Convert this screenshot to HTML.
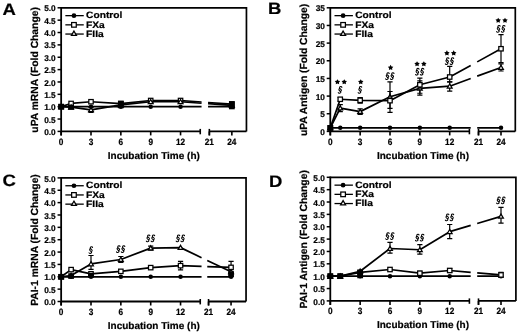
<!DOCTYPE html><html><head><meta charset="utf-8"><style>html,body{margin:0;padding:0;background:#fff;}svg{display:block;filter:grayscale(1);}text{font-family:"Liberation Sans", sans-serif;fill:#000;text-rendering:geometricPrecision;stroke:#000;stroke-width:0.2px;}</style></head><body>
<svg width="520" height="334" viewBox="0 0 520 334">
<rect width="520" height="334" fill="#fff"/>
<text transform="translate(2.4,15.4) scale(1.12,1)" font-size="16.5" font-weight="bold">A</text>
<path d="M61.15,7.80 H246.45 V131.40" fill="none" stroke="#000" stroke-width="1.7"/>
<line x1="61.15" y1="7.0" x2="61.15" y2="135.4" stroke="#000" stroke-width="1.8"/>
<line x1="61.15" y1="131.4" x2="200.25" y2="131.4" stroke="#000" stroke-width="1.8"/>
<line x1="209.35" y1="131.4" x2="246.45" y2="131.40" stroke="#000" stroke-width="1.8"/>
<line x1="200.25" y1="128.9" x2="200.25" y2="134.3" stroke="#000" stroke-width="1.6"/>
<line x1="209.35" y1="128.9" x2="209.35" y2="135.4" stroke="#000" stroke-width="1.6"/>
<line x1="61.15" y1="131.4" x2="61.15" y2="135.4" stroke="#000" stroke-width="1.6"/>
<text transform="translate(61.15,144.70) scale(0.9,1)" font-size="9.2" font-weight="bold" text-anchor="middle">0</text>
<line x1="91.00" y1="131.4" x2="91.00" y2="135.4" stroke="#000" stroke-width="1.6"/>
<text transform="translate(91.00,144.70) scale(0.9,1)" font-size="9.2" font-weight="bold" text-anchor="middle">3</text>
<line x1="120.85" y1="131.4" x2="120.85" y2="135.4" stroke="#000" stroke-width="1.6"/>
<text transform="translate(120.85,144.70) scale(0.9,1)" font-size="9.2" font-weight="bold" text-anchor="middle">6</text>
<line x1="150.70" y1="131.4" x2="150.70" y2="135.4" stroke="#000" stroke-width="1.6"/>
<text transform="translate(150.70,144.70) scale(0.9,1)" font-size="9.2" font-weight="bold" text-anchor="middle">9</text>
<line x1="180.55" y1="131.4" x2="180.55" y2="135.4" stroke="#000" stroke-width="1.6"/>
<text transform="translate(180.55,144.70) scale(0.9,1)" font-size="9.2" font-weight="bold" text-anchor="middle">12</text>
<line x1="209.35" y1="131.4" x2="209.35" y2="135.4" stroke="#000" stroke-width="1.6"/>
<text transform="translate(209.35,144.70) scale(0.9,1)" font-size="9.2" font-weight="bold" text-anchor="middle">21</text>
<line x1="231.85" y1="131.4" x2="231.85" y2="135.4" stroke="#000" stroke-width="1.6"/>
<text transform="translate(231.85,144.70) scale(0.9,1)" font-size="9.2" font-weight="bold" text-anchor="middle">24</text>
<line x1="57.55" y1="131.40" x2="61.15" y2="131.40" stroke="#000" stroke-width="1.5"/>
<text x="55.75" y="135.00" font-size="8.3" font-weight="bold" text-anchor="end">0.0</text>
<line x1="57.55" y1="119.04" x2="61.15" y2="119.04" stroke="#000" stroke-width="1.5"/>
<text x="55.75" y="122.64" font-size="8.3" font-weight="bold" text-anchor="end">0.5</text>
<line x1="57.55" y1="106.68" x2="61.15" y2="106.68" stroke="#000" stroke-width="1.5"/>
<text x="55.75" y="110.28" font-size="8.3" font-weight="bold" text-anchor="end">1.0</text>
<line x1="57.55" y1="94.32" x2="61.15" y2="94.32" stroke="#000" stroke-width="1.5"/>
<text x="55.75" y="97.92" font-size="8.3" font-weight="bold" text-anchor="end">1.5</text>
<line x1="57.55" y1="81.96" x2="61.15" y2="81.96" stroke="#000" stroke-width="1.5"/>
<text x="55.75" y="85.56" font-size="8.3" font-weight="bold" text-anchor="end">2.0</text>
<line x1="57.55" y1="69.60" x2="61.15" y2="69.60" stroke="#000" stroke-width="1.5"/>
<text x="55.75" y="73.20" font-size="8.3" font-weight="bold" text-anchor="end">2.5</text>
<line x1="57.55" y1="57.24" x2="61.15" y2="57.24" stroke="#000" stroke-width="1.5"/>
<text x="55.75" y="60.84" font-size="8.3" font-weight="bold" text-anchor="end">3.0</text>
<line x1="57.55" y1="44.88" x2="61.15" y2="44.88" stroke="#000" stroke-width="1.5"/>
<text x="55.75" y="48.48" font-size="8.3" font-weight="bold" text-anchor="end">3.5</text>
<line x1="57.55" y1="32.52" x2="61.15" y2="32.52" stroke="#000" stroke-width="1.5"/>
<text x="55.75" y="36.12" font-size="8.3" font-weight="bold" text-anchor="end">4.0</text>
<line x1="57.55" y1="20.16" x2="61.15" y2="20.16" stroke="#000" stroke-width="1.5"/>
<text x="55.75" y="23.76" font-size="8.3" font-weight="bold" text-anchor="end">4.5</text>
<line x1="57.55" y1="7.80" x2="61.15" y2="7.80" stroke="#000" stroke-width="1.5"/>
<text x="55.75" y="11.40" font-size="8.3" font-weight="bold" text-anchor="end">5.0</text>
<text transform="translate(37.85,69.90) rotate(-90)" font-size="10.3" font-weight="bold" text-anchor="middle">uPA mRNA (Fold Change)</text>
<text x="153.85" y="158.80" font-size="10" font-weight="bold" text-anchor="middle">Incubation Time (h)</text>
<line x1="65.35" y1="15.65" x2="83.75" y2="15.65" stroke="#000" stroke-width="1.3"/>
<circle cx="73.95" cy="15.65" r="2.36" fill="#000"/>
<text transform="translate(86.05,18.30) scale(1.1,1)" font-size="9.3" font-weight="bold">Control</text>
<line x1="65.35" y1="24.85" x2="83.75" y2="24.85" stroke="#000" stroke-width="1.3"/>
<rect x="71.64" y="22.54" width="4.62" height="4.62" fill="#fff" stroke="#000" stroke-width="1.25"/>
<text transform="translate(86.05,27.50) scale(1.1,1)" font-size="9.3" font-weight="bold">FXa</text>
<line x1="65.35" y1="34.05" x2="83.75" y2="34.05" stroke="#000" stroke-width="1.3"/>
<polygon points="73.95,31.08 76.47,35.39 71.43,35.39" fill="#fff" stroke="#000" stroke-width="1.25" stroke-linejoin="miter"/>
<text transform="translate(86.05,36.70) scale(1.1,1)" font-size="9.3" font-weight="bold">FIIa</text>
<path d="M61.15,106.68 L71.10,106.68 L91.00,106.68 L120.85,106.68 L150.70,106.68 L180.55,106.68 L201.55,106.68 M208.05,106.68 L231.85,106.68" fill="none" stroke="#000" stroke-width="1.7" stroke-linejoin="round"/>
<circle cx="61.15" cy="106.68" r="2.25" fill="#000"/>
<circle cx="71.10" cy="106.68" r="2.25" fill="#000"/>
<circle cx="91.00" cy="106.68" r="2.25" fill="#000"/>
<circle cx="120.85" cy="106.68" r="2.25" fill="#000"/>
<circle cx="150.70" cy="106.68" r="2.25" fill="#000"/>
<circle cx="180.55" cy="106.68" r="2.25" fill="#000"/>
<circle cx="231.85" cy="106.68" r="2.25" fill="#000"/>
<path d="M61.15,106.68 L71.10,103.47 L91.00,101.74 L120.85,103.71 L150.70,100.50 L180.55,100.50 L201.55,102.02 M208.05,102.49 L231.85,104.21" fill="none" stroke="#000" stroke-width="1.7" stroke-linejoin="round"/>
<rect x="58.95" y="104.48" width="4.40" height="4.40" fill="#fff" stroke="#000" stroke-width="1.25"/>
<rect x="68.90" y="101.27" width="4.40" height="4.40" fill="#fff" stroke="#000" stroke-width="1.25"/>
<rect x="88.80" y="99.54" width="4.40" height="4.40" fill="#fff" stroke="#000" stroke-width="1.25"/>
<rect x="118.65" y="101.51" width="4.40" height="4.40" fill="#fff" stroke="#000" stroke-width="1.25"/>
<rect x="148.50" y="98.30" width="4.40" height="4.40" fill="#fff" stroke="#000" stroke-width="1.25"/>
<rect x="178.35" y="98.30" width="4.40" height="4.40" fill="#fff" stroke="#000" stroke-width="1.25"/>
<rect x="229.65" y="102.01" width="4.40" height="4.40" fill="#fff" stroke="#000" stroke-width="1.25"/>
<path d="M61.15,106.68 L71.10,107.17 L91.00,109.89 L120.85,104.95 L150.70,101.74 L180.55,101.74 L201.55,103.25 M208.05,103.72 L231.85,105.44" fill="none" stroke="#000" stroke-width="1.7" stroke-linejoin="round"/>
<path d="M91.00,107.42 V112.37 M88.40,107.42 H93.60 M88.40,112.37 H93.60" stroke="#000" stroke-width="1.2" fill="none"/>
<polygon points="61.15,104.43 63.55,108.53 58.75,108.53" fill="#fff" stroke="#000" stroke-width="1.25" stroke-linejoin="miter"/>
<polygon points="71.10,104.92 73.50,109.02 68.70,109.02" fill="#fff" stroke="#000" stroke-width="1.25" stroke-linejoin="miter"/>
<polygon points="91.00,107.64 93.40,111.74 88.60,111.74" fill="#fff" stroke="#000" stroke-width="1.25" stroke-linejoin="miter"/>
<polygon points="120.85,102.69 123.25,106.79 118.45,106.79" fill="#fff" stroke="#000" stroke-width="1.25" stroke-linejoin="miter"/>
<polygon points="150.70,99.48 153.10,103.58 148.30,103.58" fill="#fff" stroke="#000" stroke-width="1.25" stroke-linejoin="miter"/>
<polygon points="180.55,99.48 182.95,103.58 178.15,103.58" fill="#fff" stroke="#000" stroke-width="1.25" stroke-linejoin="miter"/>
<polygon points="231.85,103.19 234.25,107.29 229.45,107.29" fill="#fff" stroke="#000" stroke-width="1.25" stroke-linejoin="miter"/>
<rect x="58.25" y="103.88" width="5.8" height="5.6" fill="#000"/>
<rect x="68.20" y="104.67" width="5.8" height="5.0" fill="#000"/>
<rect x="117.95" y="100.66" width="5.8" height="7.6" fill="#000"/>
<rect x="228.95" y="101.10" width="5.8" height="8.2" fill="#000"/>
<text transform="translate(268,13.5) scale(1.12,1)" font-size="16.5" font-weight="bold">B</text>
<path d="M330.30,7.80 H515.30 V131.40" fill="none" stroke="#000" stroke-width="1.7"/>
<line x1="330.3" y1="7.0" x2="330.3" y2="135.4" stroke="#000" stroke-width="1.8"/>
<line x1="330.3" y1="131.4" x2="469.4" y2="131.4" stroke="#000" stroke-width="1.8"/>
<line x1="478.50" y1="131.4" x2="515.30" y2="131.40" stroke="#000" stroke-width="1.8"/>
<line x1="469.4" y1="128.9" x2="469.4" y2="134.3" stroke="#000" stroke-width="1.6"/>
<line x1="478.50" y1="128.9" x2="478.50" y2="135.4" stroke="#000" stroke-width="1.6"/>
<line x1="330.30" y1="131.4" x2="330.30" y2="135.4" stroke="#000" stroke-width="1.6"/>
<text transform="translate(330.30,144.70) scale(0.9,1)" font-size="9.2" font-weight="bold" text-anchor="middle">0</text>
<line x1="360.15" y1="131.4" x2="360.15" y2="135.4" stroke="#000" stroke-width="1.6"/>
<text transform="translate(360.15,144.70) scale(0.9,1)" font-size="9.2" font-weight="bold" text-anchor="middle">3</text>
<line x1="390.00" y1="131.4" x2="390.00" y2="135.4" stroke="#000" stroke-width="1.6"/>
<text transform="translate(390.00,144.70) scale(0.9,1)" font-size="9.2" font-weight="bold" text-anchor="middle">6</text>
<line x1="419.85" y1="131.4" x2="419.85" y2="135.4" stroke="#000" stroke-width="1.6"/>
<text transform="translate(419.85,144.70) scale(0.9,1)" font-size="9.2" font-weight="bold" text-anchor="middle">9</text>
<line x1="449.70" y1="131.4" x2="449.70" y2="135.4" stroke="#000" stroke-width="1.6"/>
<text transform="translate(449.70,144.70) scale(0.9,1)" font-size="9.2" font-weight="bold" text-anchor="middle">12</text>
<line x1="478.50" y1="131.4" x2="478.50" y2="135.4" stroke="#000" stroke-width="1.6"/>
<text transform="translate(478.50,144.70) scale(0.9,1)" font-size="9.2" font-weight="bold" text-anchor="middle">21</text>
<line x1="501.00" y1="131.4" x2="501.00" y2="135.4" stroke="#000" stroke-width="1.6"/>
<text transform="translate(501.00,144.70) scale(0.9,1)" font-size="9.2" font-weight="bold" text-anchor="middle">24</text>
<line x1="326.7" y1="131.40" x2="330.3" y2="131.40" stroke="#000" stroke-width="1.5"/>
<text x="324.90" y="135.00" font-size="8.3" font-weight="bold" text-anchor="end">0</text>
<line x1="326.7" y1="113.74" x2="330.3" y2="113.74" stroke="#000" stroke-width="1.5"/>
<text x="324.90" y="117.34" font-size="8.3" font-weight="bold" text-anchor="end">5</text>
<line x1="326.7" y1="96.09" x2="330.3" y2="96.09" stroke="#000" stroke-width="1.5"/>
<text x="324.90" y="99.69" font-size="8.3" font-weight="bold" text-anchor="end">10</text>
<line x1="326.7" y1="78.43" x2="330.3" y2="78.43" stroke="#000" stroke-width="1.5"/>
<text x="324.90" y="82.03" font-size="8.3" font-weight="bold" text-anchor="end">15</text>
<line x1="326.7" y1="60.77" x2="330.3" y2="60.77" stroke="#000" stroke-width="1.5"/>
<text x="324.90" y="64.37" font-size="8.3" font-weight="bold" text-anchor="end">20</text>
<line x1="326.7" y1="43.11" x2="330.3" y2="43.11" stroke="#000" stroke-width="1.5"/>
<text x="324.90" y="46.71" font-size="8.3" font-weight="bold" text-anchor="end">25</text>
<line x1="326.7" y1="25.46" x2="330.3" y2="25.46" stroke="#000" stroke-width="1.5"/>
<text x="324.90" y="29.06" font-size="8.3" font-weight="bold" text-anchor="end">30</text>
<line x1="326.7" y1="7.80" x2="330.3" y2="7.80" stroke="#000" stroke-width="1.5"/>
<text x="324.90" y="11.40" font-size="8.3" font-weight="bold" text-anchor="end">35</text>
<text transform="translate(307.00,69.90) rotate(-90)" font-size="10.3" font-weight="bold" text-anchor="middle">uPA Antigen (Fold Change)</text>
<text x="423.00" y="158.80" font-size="10" font-weight="bold" text-anchor="middle">Incubation Time (h)</text>
<line x1="334.5" y1="15.65" x2="352.90000000000003" y2="15.65" stroke="#000" stroke-width="1.3"/>
<circle cx="343.10" cy="15.65" r="2.36" fill="#000"/>
<text transform="translate(355.20,18.30) scale(1.1,1)" font-size="9.3" font-weight="bold">Control</text>
<line x1="334.5" y1="24.85" x2="352.90000000000003" y2="24.85" stroke="#000" stroke-width="1.3"/>
<rect x="340.79" y="22.54" width="4.62" height="4.62" fill="#fff" stroke="#000" stroke-width="1.25"/>
<text transform="translate(355.20,27.50) scale(1.1,1)" font-size="9.3" font-weight="bold">FXa</text>
<line x1="334.5" y1="34.05" x2="352.90000000000003" y2="34.05" stroke="#000" stroke-width="1.3"/>
<polygon points="343.10,31.08 345.62,35.39 340.58,35.39" fill="#fff" stroke="#000" stroke-width="1.25" stroke-linejoin="miter"/>
<text transform="translate(355.20,36.70) scale(1.1,1)" font-size="9.3" font-weight="bold">FIIa</text>
<path d="M330.30,127.87 L340.25,127.87 L360.15,127.87 L390.00,127.87 L419.85,127.87 L449.70,127.87 L470.70,127.87 M477.20,127.87 L501.00,127.87" fill="none" stroke="#000" stroke-width="1.7" stroke-linejoin="round"/>
<circle cx="330.30" cy="127.87" r="2.25" fill="#000"/>
<circle cx="340.25" cy="127.87" r="2.25" fill="#000"/>
<circle cx="360.15" cy="127.87" r="2.25" fill="#000"/>
<circle cx="390.00" cy="127.87" r="2.25" fill="#000"/>
<circle cx="419.85" cy="127.87" r="2.25" fill="#000"/>
<circle cx="449.70" cy="127.87" r="2.25" fill="#000"/>
<circle cx="501.00" cy="127.87" r="2.25" fill="#000"/>
<path d="M330.30,127.87 L340.25,108.09 L360.15,111.62 L390.00,96.79 L419.85,88.32 L449.70,86.20 L470.70,78.54 M477.20,76.16 L501.00,67.48" fill="none" stroke="#000" stroke-width="1.7" stroke-linejoin="round"/>
<path d="M340.25,104.56 V111.62 M337.65,104.56 H342.85 M337.65,111.62 H342.85" stroke="#000" stroke-width="1.2" fill="none"/>
<path d="M360.15,108.80 V114.45 M357.55,108.80 H362.75 M357.55,114.45 H362.75" stroke="#000" stroke-width="1.2" fill="none"/>
<path d="M390.00,81.96 V112.33 M387.40,81.96 H392.60 M387.40,112.33 H392.60" stroke="#000" stroke-width="1.2" fill="none"/>
<path d="M419.85,80.90 V95.03 M417.25,80.90 H422.45 M417.25,95.03 H422.45" stroke="#000" stroke-width="1.2" fill="none"/>
<path d="M449.70,81.96 V91.14 M447.10,81.96 H452.30 M447.10,91.14 H452.30" stroke="#000" stroke-width="1.2" fill="none"/>
<path d="M501.00,63.95 V71.01 M498.40,63.95 H503.60 M498.40,71.01 H503.60" stroke="#000" stroke-width="1.2" fill="none"/>
<polygon points="330.30,125.61 332.70,129.71 327.90,129.71" fill="#fff" stroke="#000" stroke-width="1.25" stroke-linejoin="miter"/>
<polygon points="340.25,105.84 342.65,109.94 337.85,109.94" fill="#fff" stroke="#000" stroke-width="1.25" stroke-linejoin="miter"/>
<polygon points="360.15,109.37 362.55,113.47 357.75,113.47" fill="#fff" stroke="#000" stroke-width="1.25" stroke-linejoin="miter"/>
<polygon points="390.00,94.54 392.40,98.64 387.60,98.64" fill="#fff" stroke="#000" stroke-width="1.25" stroke-linejoin="miter"/>
<polygon points="419.85,86.06 422.25,90.16 417.45,90.16" fill="#fff" stroke="#000" stroke-width="1.25" stroke-linejoin="miter"/>
<polygon points="449.70,83.94 452.10,88.04 447.30,88.04" fill="#fff" stroke="#000" stroke-width="1.25" stroke-linejoin="miter"/>
<polygon points="501.00,65.23 503.40,69.33 498.60,69.33" fill="#fff" stroke="#000" stroke-width="1.25" stroke-linejoin="miter"/>
<path d="M330.30,127.87 L340.25,99.26 L360.15,100.32 L390.00,100.68 L419.85,84.79 L449.70,77.02 L470.70,65.45 M477.20,61.87 L501.00,48.76" fill="none" stroke="#000" stroke-width="1.7" stroke-linejoin="round"/>
<path d="M340.25,97.50 V101.03 M337.65,97.50 H342.85 M337.65,101.03 H342.85" stroke="#000" stroke-width="1.2" fill="none"/>
<path d="M360.15,97.50 V103.15 M357.55,97.50 H362.75 M357.55,103.15 H362.75" stroke="#000" stroke-width="1.2" fill="none"/>
<path d="M390.00,91.49 V108.45 M387.40,91.49 H392.60 M387.40,108.45 H392.60" stroke="#000" stroke-width="1.2" fill="none"/>
<path d="M419.85,78.08 V93.26 M417.25,78.08 H422.45 M417.25,93.26 H422.45" stroke="#000" stroke-width="1.2" fill="none"/>
<path d="M449.70,66.42 V81.96 M447.10,66.42 H452.30 M447.10,81.96 H452.30" stroke="#000" stroke-width="1.2" fill="none"/>
<path d="M501.00,34.64 V62.54 M498.40,34.64 H503.60 M498.40,62.54 H503.60" stroke="#000" stroke-width="1.2" fill="none"/>
<rect x="328.10" y="125.67" width="4.40" height="4.40" fill="#fff" stroke="#000" stroke-width="1.25"/>
<rect x="338.05" y="97.06" width="4.40" height="4.40" fill="#fff" stroke="#000" stroke-width="1.25"/>
<rect x="357.95" y="98.12" width="4.40" height="4.40" fill="#fff" stroke="#000" stroke-width="1.25"/>
<rect x="387.80" y="98.48" width="4.40" height="4.40" fill="#fff" stroke="#000" stroke-width="1.25"/>
<rect x="417.65" y="82.59" width="4.40" height="4.40" fill="#fff" stroke="#000" stroke-width="1.25"/>
<rect x="447.50" y="74.82" width="4.40" height="4.40" fill="#fff" stroke="#000" stroke-width="1.25"/>
<rect x="498.80" y="46.56" width="4.40" height="4.40" fill="#fff" stroke="#000" stroke-width="1.25"/>
<rect x="327.40" y="125.07" width="5.8" height="5.6" fill="#000"/>
<polygon points="337.45,79.15 338.37,80.73 340.16,81.12 338.94,82.48 339.13,84.31 337.45,83.57 335.77,84.31 335.96,82.48 334.74,81.12 336.53,80.73" fill="#000"/>
<polygon points="344.25,79.15 345.17,80.73 346.96,81.12 345.74,82.48 345.93,84.31 344.25,83.57 342.57,84.31 342.76,82.48 341.54,81.12 343.33,80.73" fill="#000"/>
<path d="M341.83,87.37 C341.88,86.40 339.88,86.20 339.52,87.57 C339.16,88.83 341.66,89.22 341.40,90.49 C341.26,91.17 340.64,91.46 340.20,91.46 M340.08,88.54 C339.64,88.54 338.99,88.83 338.89,89.51 C338.63,90.78 341.29,91.26 340.86,92.43 C340.55,93.41 338.48,93.70 338.28,92.63 " fill="none" stroke="#000" stroke-width="1.05" stroke-linecap="round"/>
<polygon points="360.75,79.15 361.67,80.73 363.46,81.12 362.24,82.48 362.43,84.31 360.75,83.57 359.07,84.31 359.26,82.48 358.04,81.12 359.83,80.73" fill="#000"/>
<path d="M361.73,87.27 C361.78,86.30 359.78,86.10 359.42,87.47 C359.06,88.73 361.56,89.12 361.30,90.39 C361.16,91.07 360.54,91.36 360.10,91.36 M359.98,88.44 C359.54,88.44 358.89,88.73 358.79,89.41 C358.53,90.68 361.19,91.16 360.76,92.33 C360.45,93.31 358.38,93.60 358.18,92.53 " fill="none" stroke="#000" stroke-width="1.05" stroke-linecap="round"/>
<polygon points="390.60,64.85 391.52,66.43 393.31,66.82 392.09,68.18 392.28,70.01 390.60,69.27 388.92,70.01 389.11,68.18 387.89,66.82 389.68,66.43" fill="#000"/>
<path d="M389.18,73.57 C389.23,72.60 387.23,72.40 386.87,73.77 C386.51,75.03 389.01,75.42 388.75,76.69 C388.61,77.37 387.99,77.66 387.55,77.66 M387.43,74.74 C386.99,74.74 386.34,75.03 386.24,75.71 C385.98,76.98 388.64,77.46 388.21,78.63 C387.90,79.61 385.83,79.90 385.63,78.83 M393.98,73.57 C394.03,72.60 392.03,72.40 391.67,73.77 C391.31,75.03 393.81,75.42 393.55,76.69 C393.41,77.37 392.79,77.66 392.35,77.66 M392.23,74.74 C391.79,74.74 391.14,75.03 391.04,75.71 C390.78,76.98 393.44,77.46 393.01,78.63 C392.70,79.61 390.63,79.90 390.43,78.83 " fill="none" stroke="#000" stroke-width="1.05" stroke-linecap="round"/>
<polygon points="417.05,61.15 417.97,62.73 419.76,63.12 418.54,64.48 418.73,66.31 417.05,65.57 415.37,66.31 415.56,64.48 414.34,63.12 416.13,62.73" fill="#000"/>
<polygon points="423.85,61.15 424.77,62.73 426.56,63.12 425.34,64.48 425.53,66.31 423.85,65.57 422.17,66.31 422.36,64.48 421.14,63.12 422.93,62.73" fill="#000"/>
<path d="M419.03,69.17 C419.08,68.20 417.08,68.00 416.72,69.37 C416.36,70.63 418.86,71.02 418.60,72.29 C418.46,72.97 417.84,73.26 417.40,73.26 M417.28,70.34 C416.84,70.34 416.19,70.63 416.09,71.31 C415.83,72.58 418.49,73.06 418.06,74.23 C417.75,75.21 415.68,75.50 415.48,74.43 M423.83,69.17 C423.88,68.20 421.88,68.00 421.52,69.37 C421.16,70.63 423.66,71.02 423.40,72.29 C423.26,72.97 422.64,73.26 422.20,73.26 M422.08,70.34 C421.64,70.34 420.99,70.63 420.89,71.31 C420.63,72.58 423.29,73.06 422.86,74.23 C422.55,75.21 420.48,75.50 420.28,74.43 " fill="none" stroke="#000" stroke-width="1.05" stroke-linecap="round"/>
<polygon points="446.90,50.35 447.82,51.93 449.61,52.32 448.39,53.68 448.58,55.51 446.90,54.77 445.22,55.51 445.41,53.68 444.19,52.32 445.98,51.93" fill="#000"/>
<polygon points="453.70,50.35 454.62,51.93 456.41,52.32 455.19,53.68 455.38,55.51 453.70,54.77 452.02,55.51 452.21,53.68 450.99,52.32 452.78,51.93" fill="#000"/>
<path d="M448.88,58.57 C448.93,57.60 446.93,57.40 446.57,58.77 C446.21,60.03 448.71,60.42 448.45,61.69 C448.31,62.37 447.69,62.66 447.25,62.66 M447.13,59.74 C446.69,59.74 446.04,60.03 445.94,60.71 C445.68,61.98 448.34,62.46 447.91,63.63 C447.60,64.61 445.53,64.90 445.33,63.83 M453.68,58.57 C453.73,57.60 451.73,57.40 451.37,58.77 C451.01,60.03 453.51,60.42 453.25,61.69 C453.11,62.37 452.49,62.66 452.05,62.66 M451.93,59.74 C451.49,59.74 450.84,60.03 450.74,60.71 C450.48,61.98 453.14,62.46 452.71,63.63 C452.40,64.61 450.33,64.90 450.13,63.83 " fill="none" stroke="#000" stroke-width="1.05" stroke-linecap="round"/>
<polygon points="498.20,17.65 499.12,19.23 500.91,19.62 499.69,20.98 499.88,22.81 498.20,22.07 496.52,22.81 496.71,20.98 495.49,19.62 497.28,19.23" fill="#000"/>
<polygon points="505.00,17.65 505.92,19.23 507.71,19.62 506.49,20.98 506.68,22.81 505.00,22.07 503.32,22.81 503.51,20.98 502.29,19.62 504.08,19.23" fill="#000"/>
<path d="M500.18,26.27 C500.23,25.30 498.23,25.10 497.87,26.47 C497.51,27.73 500.01,28.12 499.75,29.39 C499.61,30.07 498.99,30.36 498.55,30.36 M498.43,27.44 C497.99,27.44 497.34,27.73 497.24,28.41 C496.98,29.68 499.64,30.16 499.21,31.33 C498.90,32.31 496.83,32.60 496.63,31.53 M504.98,26.27 C505.03,25.30 503.03,25.10 502.67,26.47 C502.31,27.73 504.81,28.12 504.55,29.39 C504.41,30.07 503.79,30.36 503.35,30.36 M503.23,27.44 C502.79,27.44 502.14,27.73 502.04,28.41 C501.78,29.68 504.44,30.16 504.01,31.33 C503.70,32.31 501.63,32.60 501.43,31.53 " fill="none" stroke="#000" stroke-width="1.05" stroke-linecap="round"/>
<text transform="translate(2.5,185.6) scale(1.12,1)" font-size="16.5" font-weight="bold">C</text>
<path d="M61.15,177.90 H246.05 V301.50" fill="none" stroke="#000" stroke-width="1.7"/>
<line x1="61.15" y1="177.1" x2="61.15" y2="305.5" stroke="#000" stroke-width="1.8"/>
<line x1="61.15" y1="301.5" x2="200.25" y2="301.5" stroke="#000" stroke-width="1.8"/>
<line x1="208.55" y1="301.5" x2="246.05" y2="301.50" stroke="#000" stroke-width="1.8"/>
<line x1="200.25" y1="299.0" x2="200.25" y2="304.4" stroke="#000" stroke-width="1.6"/>
<line x1="208.55" y1="299.0" x2="208.55" y2="305.5" stroke="#000" stroke-width="1.6"/>
<line x1="61.15" y1="301.5" x2="61.15" y2="305.5" stroke="#000" stroke-width="1.6"/>
<text transform="translate(61.15,314.80) scale(0.9,1)" font-size="9.2" font-weight="bold" text-anchor="middle">0</text>
<line x1="91.00" y1="301.5" x2="91.00" y2="305.5" stroke="#000" stroke-width="1.6"/>
<text transform="translate(91.00,314.80) scale(0.9,1)" font-size="9.2" font-weight="bold" text-anchor="middle">3</text>
<line x1="120.85" y1="301.5" x2="120.85" y2="305.5" stroke="#000" stroke-width="1.6"/>
<text transform="translate(120.85,314.80) scale(0.9,1)" font-size="9.2" font-weight="bold" text-anchor="middle">6</text>
<line x1="150.70" y1="301.5" x2="150.70" y2="305.5" stroke="#000" stroke-width="1.6"/>
<text transform="translate(150.70,314.80) scale(0.9,1)" font-size="9.2" font-weight="bold" text-anchor="middle">9</text>
<line x1="180.55" y1="301.5" x2="180.55" y2="305.5" stroke="#000" stroke-width="1.6"/>
<text transform="translate(180.55,314.80) scale(0.9,1)" font-size="9.2" font-weight="bold" text-anchor="middle">12</text>
<line x1="208.55" y1="301.5" x2="208.55" y2="305.5" stroke="#000" stroke-width="1.6"/>
<text transform="translate(208.55,314.80) scale(0.9,1)" font-size="9.2" font-weight="bold" text-anchor="middle">21</text>
<line x1="231.05" y1="301.5" x2="231.05" y2="305.5" stroke="#000" stroke-width="1.6"/>
<text transform="translate(231.05,314.80) scale(0.9,1)" font-size="9.2" font-weight="bold" text-anchor="middle">24</text>
<line x1="57.55" y1="301.50" x2="61.15" y2="301.50" stroke="#000" stroke-width="1.5"/>
<text x="55.75" y="305.10" font-size="8.3" font-weight="bold" text-anchor="end">0.0</text>
<line x1="57.55" y1="289.14" x2="61.15" y2="289.14" stroke="#000" stroke-width="1.5"/>
<text x="55.75" y="292.74" font-size="8.3" font-weight="bold" text-anchor="end">0.5</text>
<line x1="57.55" y1="276.78" x2="61.15" y2="276.78" stroke="#000" stroke-width="1.5"/>
<text x="55.75" y="280.38" font-size="8.3" font-weight="bold" text-anchor="end">1.0</text>
<line x1="57.55" y1="264.42" x2="61.15" y2="264.42" stroke="#000" stroke-width="1.5"/>
<text x="55.75" y="268.02" font-size="8.3" font-weight="bold" text-anchor="end">1.5</text>
<line x1="57.55" y1="252.06" x2="61.15" y2="252.06" stroke="#000" stroke-width="1.5"/>
<text x="55.75" y="255.66" font-size="8.3" font-weight="bold" text-anchor="end">2.0</text>
<line x1="57.55" y1="239.70" x2="61.15" y2="239.70" stroke="#000" stroke-width="1.5"/>
<text x="55.75" y="243.30" font-size="8.3" font-weight="bold" text-anchor="end">2.5</text>
<line x1="57.55" y1="227.34" x2="61.15" y2="227.34" stroke="#000" stroke-width="1.5"/>
<text x="55.75" y="230.94" font-size="8.3" font-weight="bold" text-anchor="end">3.0</text>
<line x1="57.55" y1="214.98" x2="61.15" y2="214.98" stroke="#000" stroke-width="1.5"/>
<text x="55.75" y="218.58" font-size="8.3" font-weight="bold" text-anchor="end">3.5</text>
<line x1="57.55" y1="202.62" x2="61.15" y2="202.62" stroke="#000" stroke-width="1.5"/>
<text x="55.75" y="206.22" font-size="8.3" font-weight="bold" text-anchor="end">4.0</text>
<line x1="57.55" y1="190.26" x2="61.15" y2="190.26" stroke="#000" stroke-width="1.5"/>
<text x="55.75" y="193.86" font-size="8.3" font-weight="bold" text-anchor="end">4.5</text>
<line x1="57.55" y1="177.90" x2="61.15" y2="177.90" stroke="#000" stroke-width="1.5"/>
<text x="55.75" y="181.50" font-size="8.3" font-weight="bold" text-anchor="end">5.0</text>
<text transform="translate(37.85,240.00) rotate(-90)" font-size="10.3" font-weight="bold" text-anchor="middle">PAI-1 mRNA (Fold Change)</text>
<text x="153.85" y="328.90" font-size="10" font-weight="bold" text-anchor="middle">Incubation Time (h)</text>
<line x1="65.35" y1="185.75" x2="83.75" y2="185.75" stroke="#000" stroke-width="1.3"/>
<circle cx="73.95" cy="185.75" r="2.36" fill="#000"/>
<text transform="translate(86.05,188.40) scale(1.1,1)" font-size="9.3" font-weight="bold">Control</text>
<line x1="65.35" y1="194.95" x2="83.75" y2="194.95" stroke="#000" stroke-width="1.3"/>
<rect x="71.64" y="192.64" width="4.62" height="4.62" fill="#fff" stroke="#000" stroke-width="1.25"/>
<text transform="translate(86.05,197.60) scale(1.1,1)" font-size="9.3" font-weight="bold">FXa</text>
<line x1="65.35" y1="204.15" x2="83.75" y2="204.15" stroke="#000" stroke-width="1.3"/>
<polygon points="73.95,201.18 76.47,205.49 71.43,205.49" fill="#fff" stroke="#000" stroke-width="1.25" stroke-linejoin="miter"/>
<text transform="translate(86.05,206.80) scale(1.1,1)" font-size="9.3" font-weight="bold">FIIa</text>
<path d="M61.15,276.78 L71.10,276.78 L91.00,276.78 L120.85,276.78 L150.70,276.78 L180.55,276.78 L201.55,276.78 M207.25,276.78 L231.05,276.78" fill="none" stroke="#000" stroke-width="1.7" stroke-linejoin="round"/>
<circle cx="61.15" cy="276.78" r="2.25" fill="#000"/>
<circle cx="71.10" cy="276.78" r="2.25" fill="#000"/>
<circle cx="91.00" cy="276.78" r="2.25" fill="#000"/>
<circle cx="120.85" cy="276.78" r="2.25" fill="#000"/>
<circle cx="150.70" cy="276.78" r="2.25" fill="#000"/>
<circle cx="180.55" cy="276.78" r="2.25" fill="#000"/>
<circle cx="231.05" cy="276.78" r="2.25" fill="#000"/>
<path d="M61.15,276.78 L71.10,269.61 L91.00,273.81 L120.85,271.34 L150.70,267.63 L180.55,265.66 L201.55,266.38 M207.25,266.57 L231.05,267.39" fill="none" stroke="#000" stroke-width="1.7" stroke-linejoin="round"/>
<path d="M180.55,261.45 V269.86 M177.95,261.45 H183.15 M177.95,269.86 H183.15" stroke="#000" stroke-width="1.2" fill="none"/>
<path d="M231.05,261.45 V271.84 M228.45,261.45 H233.65 M228.45,271.84 H233.65" stroke="#000" stroke-width="1.2" fill="none"/>
<rect x="58.95" y="274.58" width="4.40" height="4.40" fill="#fff" stroke="#000" stroke-width="1.25"/>
<rect x="68.90" y="267.41" width="4.40" height="4.40" fill="#fff" stroke="#000" stroke-width="1.25"/>
<rect x="88.80" y="271.61" width="4.40" height="4.40" fill="#fff" stroke="#000" stroke-width="1.25"/>
<rect x="118.65" y="269.14" width="4.40" height="4.40" fill="#fff" stroke="#000" stroke-width="1.25"/>
<rect x="148.50" y="265.43" width="4.40" height="4.40" fill="#fff" stroke="#000" stroke-width="1.25"/>
<rect x="178.35" y="263.46" width="4.40" height="4.40" fill="#fff" stroke="#000" stroke-width="1.25"/>
<rect x="228.85" y="265.19" width="4.40" height="4.40" fill="#fff" stroke="#000" stroke-width="1.25"/>
<path d="M61.15,276.78 L71.10,275.54 L91.00,263.93 L120.85,259.48 L150.70,248.10 L180.55,247.61 L201.55,257.68 M207.25,260.42 L231.05,271.84" fill="none" stroke="#000" stroke-width="1.7" stroke-linejoin="round"/>
<path d="M91.00,255.52 V269.36 M88.40,255.52 H93.60 M88.40,269.36 H93.60" stroke="#000" stroke-width="1.2" fill="none"/>
<path d="M120.85,256.51 V262.44 M118.25,256.51 H123.45 M118.25,262.44 H123.45" stroke="#000" stroke-width="1.2" fill="none"/>
<path d="M150.70,246.13 V250.08 M148.10,246.13 H153.30 M148.10,250.08 H153.30" stroke="#000" stroke-width="1.2" fill="none"/>
<polygon points="61.15,274.52 63.55,278.62 58.75,278.62" fill="#fff" stroke="#000" stroke-width="1.25" stroke-linejoin="miter"/>
<polygon points="71.10,273.29 73.50,277.39 68.70,277.39" fill="#fff" stroke="#000" stroke-width="1.25" stroke-linejoin="miter"/>
<polygon points="91.00,261.67 93.40,265.77 88.60,265.77" fill="#fff" stroke="#000" stroke-width="1.25" stroke-linejoin="miter"/>
<polygon points="120.85,257.22 123.25,261.32 118.45,261.32" fill="#fff" stroke="#000" stroke-width="1.25" stroke-linejoin="miter"/>
<polygon points="150.70,245.85 153.10,249.95 148.30,249.95" fill="#fff" stroke="#000" stroke-width="1.25" stroke-linejoin="miter"/>
<polygon points="180.55,245.36 182.95,249.46 178.15,249.46" fill="#fff" stroke="#000" stroke-width="1.25" stroke-linejoin="miter"/>
<polygon points="231.05,269.58 233.45,273.68 228.65,273.68" fill="#fff" stroke="#000" stroke-width="1.25" stroke-linejoin="miter"/>
<rect x="58.25" y="273.98" width="5.8" height="5.6" fill="#000"/>
<rect x="68.20" y="273.24" width="5.8" height="5.6" fill="#000"/>
<rect x="88.10" y="272.80" width="5.8" height="5.0" fill="#000"/>
<rect x="228.15" y="271.31" width="5.8" height="6.0" fill="#000"/>
<path d="M92.58,247.47 C92.63,246.50 90.63,246.30 90.27,247.67 C89.91,248.93 92.41,249.32 92.15,250.59 C92.01,251.27 91.39,251.56 90.95,251.56 M90.83,248.64 C90.39,248.64 89.74,248.93 89.64,249.61 C89.38,250.88 92.04,251.36 91.61,252.53 C91.30,253.51 89.23,253.80 89.03,252.73 " fill="none" stroke="#000" stroke-width="1.05" stroke-linecap="round"/>
<path d="M120.03,246.57 C120.08,245.60 118.08,245.40 117.72,246.77 C117.36,248.03 119.86,248.42 119.60,249.69 C119.46,250.37 118.84,250.66 118.40,250.66 M118.28,247.74 C117.84,247.74 117.19,248.03 117.09,248.71 C116.83,249.98 119.49,250.46 119.06,251.63 C118.75,252.61 116.68,252.90 116.48,251.83 M124.83,246.57 C124.88,245.60 122.88,245.40 122.52,246.77 C122.16,248.03 124.66,248.42 124.40,249.69 C124.26,250.37 123.64,250.66 123.20,250.66 M123.08,247.74 C122.64,247.74 121.99,248.03 121.89,248.71 C121.63,249.98 124.29,250.46 123.86,251.63 C123.55,252.61 121.48,252.90 121.28,251.83 " fill="none" stroke="#000" stroke-width="1.05" stroke-linecap="round"/>
<path d="M149.88,235.77 C149.93,234.80 147.93,234.60 147.57,235.97 C147.21,237.23 149.71,237.62 149.45,238.89 C149.31,239.57 148.69,239.86 148.25,239.86 M148.13,236.94 C147.69,236.94 147.04,237.23 146.94,237.91 C146.68,239.18 149.34,239.66 148.91,240.83 C148.60,241.81 146.53,242.10 146.33,241.03 M154.68,235.77 C154.73,234.80 152.73,234.60 152.37,235.97 C152.01,237.23 154.51,237.62 154.25,238.89 C154.11,239.57 153.49,239.86 153.05,239.86 M152.93,236.94 C152.49,236.94 151.84,237.23 151.74,237.91 C151.48,239.18 154.14,239.66 153.71,240.83 C153.40,241.81 151.33,242.10 151.13,241.03 " fill="none" stroke="#000" stroke-width="1.05" stroke-linecap="round"/>
<path d="M179.73,235.77 C179.78,234.80 177.78,234.60 177.42,235.97 C177.06,237.23 179.56,237.62 179.30,238.89 C179.16,239.57 178.54,239.86 178.10,239.86 M177.98,236.94 C177.54,236.94 176.89,237.23 176.79,237.91 C176.53,239.18 179.19,239.66 178.76,240.83 C178.45,241.81 176.38,242.10 176.18,241.03 M184.53,235.77 C184.58,234.80 182.58,234.60 182.22,235.97 C181.86,237.23 184.36,237.62 184.10,238.89 C183.96,239.57 183.34,239.86 182.90,239.86 M182.78,236.94 C182.34,236.94 181.69,237.23 181.59,237.91 C181.33,239.18 183.99,239.66 183.56,240.83 C183.25,241.81 181.18,242.10 180.98,241.03 " fill="none" stroke="#000" stroke-width="1.05" stroke-linecap="round"/>
<text transform="translate(269,186.5) scale(1.12,1)" font-size="16.5" font-weight="bold">D</text>
<path d="M330.30,177.30 H515.90 V300.90" fill="none" stroke="#000" stroke-width="1.7"/>
<line x1="330.3" y1="176.5" x2="330.3" y2="304.9" stroke="#000" stroke-width="1.8"/>
<line x1="330.3" y1="300.9" x2="469.4" y2="300.9" stroke="#000" stroke-width="1.8"/>
<line x1="478.50" y1="300.9" x2="515.90" y2="300.90" stroke="#000" stroke-width="1.8"/>
<line x1="469.4" y1="298.4" x2="469.4" y2="303.79999999999995" stroke="#000" stroke-width="1.6"/>
<line x1="478.50" y1="298.4" x2="478.50" y2="304.9" stroke="#000" stroke-width="1.6"/>
<line x1="330.30" y1="300.9" x2="330.30" y2="304.9" stroke="#000" stroke-width="1.6"/>
<text transform="translate(330.30,314.20) scale(0.9,1)" font-size="9.2" font-weight="bold" text-anchor="middle">0</text>
<line x1="360.15" y1="300.9" x2="360.15" y2="304.9" stroke="#000" stroke-width="1.6"/>
<text transform="translate(360.15,314.20) scale(0.9,1)" font-size="9.2" font-weight="bold" text-anchor="middle">3</text>
<line x1="390.00" y1="300.9" x2="390.00" y2="304.9" stroke="#000" stroke-width="1.6"/>
<text transform="translate(390.00,314.20) scale(0.9,1)" font-size="9.2" font-weight="bold" text-anchor="middle">6</text>
<line x1="419.85" y1="300.9" x2="419.85" y2="304.9" stroke="#000" stroke-width="1.6"/>
<text transform="translate(419.85,314.20) scale(0.9,1)" font-size="9.2" font-weight="bold" text-anchor="middle">9</text>
<line x1="449.70" y1="300.9" x2="449.70" y2="304.9" stroke="#000" stroke-width="1.6"/>
<text transform="translate(449.70,314.20) scale(0.9,1)" font-size="9.2" font-weight="bold" text-anchor="middle">12</text>
<line x1="478.50" y1="300.9" x2="478.50" y2="304.9" stroke="#000" stroke-width="1.6"/>
<text transform="translate(478.50,314.20) scale(0.9,1)" font-size="9.2" font-weight="bold" text-anchor="middle">21</text>
<line x1="501.00" y1="300.9" x2="501.00" y2="304.9" stroke="#000" stroke-width="1.6"/>
<text transform="translate(501.00,314.20) scale(0.9,1)" font-size="9.2" font-weight="bold" text-anchor="middle">24</text>
<line x1="326.7" y1="300.90" x2="330.3" y2="300.90" stroke="#000" stroke-width="1.5"/>
<text x="324.90" y="304.50" font-size="8.3" font-weight="bold" text-anchor="end">0.0</text>
<line x1="326.7" y1="288.54" x2="330.3" y2="288.54" stroke="#000" stroke-width="1.5"/>
<text x="324.90" y="292.14" font-size="8.3" font-weight="bold" text-anchor="end">0.5</text>
<line x1="326.7" y1="276.18" x2="330.3" y2="276.18" stroke="#000" stroke-width="1.5"/>
<text x="324.90" y="279.78" font-size="8.3" font-weight="bold" text-anchor="end">1.0</text>
<line x1="326.7" y1="263.82" x2="330.3" y2="263.82" stroke="#000" stroke-width="1.5"/>
<text x="324.90" y="267.42" font-size="8.3" font-weight="bold" text-anchor="end">1.5</text>
<line x1="326.7" y1="251.46" x2="330.3" y2="251.46" stroke="#000" stroke-width="1.5"/>
<text x="324.90" y="255.06" font-size="8.3" font-weight="bold" text-anchor="end">2.0</text>
<line x1="326.7" y1="239.10" x2="330.3" y2="239.10" stroke="#000" stroke-width="1.5"/>
<text x="324.90" y="242.70" font-size="8.3" font-weight="bold" text-anchor="end">2.5</text>
<line x1="326.7" y1="226.74" x2="330.3" y2="226.74" stroke="#000" stroke-width="1.5"/>
<text x="324.90" y="230.34" font-size="8.3" font-weight="bold" text-anchor="end">3.0</text>
<line x1="326.7" y1="214.38" x2="330.3" y2="214.38" stroke="#000" stroke-width="1.5"/>
<text x="324.90" y="217.98" font-size="8.3" font-weight="bold" text-anchor="end">3.5</text>
<line x1="326.7" y1="202.02" x2="330.3" y2="202.02" stroke="#000" stroke-width="1.5"/>
<text x="324.90" y="205.62" font-size="8.3" font-weight="bold" text-anchor="end">4.0</text>
<line x1="326.7" y1="189.66" x2="330.3" y2="189.66" stroke="#000" stroke-width="1.5"/>
<text x="324.90" y="193.26" font-size="8.3" font-weight="bold" text-anchor="end">4.5</text>
<line x1="326.7" y1="177.30" x2="330.3" y2="177.30" stroke="#000" stroke-width="1.5"/>
<text x="324.90" y="180.90" font-size="8.3" font-weight="bold" text-anchor="end">5.0</text>
<text transform="translate(307.00,239.40) rotate(-90)" font-size="10.3" font-weight="bold" text-anchor="middle">PAI-1 Antigen (Fold Change)</text>
<text x="423.00" y="328.30" font-size="10" font-weight="bold" text-anchor="middle">Incubation Time (h)</text>
<line x1="334.5" y1="185.15" x2="352.90000000000003" y2="185.15" stroke="#000" stroke-width="1.3"/>
<circle cx="343.10" cy="185.15" r="2.36" fill="#000"/>
<text transform="translate(355.20,187.80) scale(1.1,1)" font-size="9.3" font-weight="bold">Control</text>
<line x1="334.5" y1="194.35" x2="352.90000000000003" y2="194.35" stroke="#000" stroke-width="1.3"/>
<rect x="340.79" y="192.04" width="4.62" height="4.62" fill="#fff" stroke="#000" stroke-width="1.25"/>
<text transform="translate(355.20,197.00) scale(1.1,1)" font-size="9.3" font-weight="bold">FXa</text>
<line x1="334.5" y1="203.55" x2="352.90000000000003" y2="203.55" stroke="#000" stroke-width="1.3"/>
<polygon points="343.10,200.58 345.62,204.89 340.58,204.89" fill="#fff" stroke="#000" stroke-width="1.25" stroke-linejoin="miter"/>
<text transform="translate(355.20,206.20) scale(1.1,1)" font-size="9.3" font-weight="bold">FIIa</text>
<path d="M330.30,276.18 L340.25,276.18 L360.15,276.18 L390.00,276.18 L419.85,276.18 L449.70,276.18 L470.70,276.18 M477.20,276.18 L501.00,276.18" fill="none" stroke="#000" stroke-width="1.7" stroke-linejoin="round"/>
<circle cx="330.30" cy="276.18" r="2.25" fill="#000"/>
<circle cx="340.25" cy="276.18" r="2.25" fill="#000"/>
<circle cx="360.15" cy="276.18" r="2.25" fill="#000"/>
<circle cx="390.00" cy="276.18" r="2.25" fill="#000"/>
<circle cx="419.85" cy="276.18" r="2.25" fill="#000"/>
<circle cx="449.70" cy="276.18" r="2.25" fill="#000"/>
<circle cx="501.00" cy="276.18" r="2.25" fill="#000"/>
<path d="M330.30,276.18 L340.25,276.18 L360.15,272.47 L390.00,269.51 L419.85,273.21 L449.70,270.49 L470.70,272.32 M477.20,272.88 L501.00,274.94" fill="none" stroke="#000" stroke-width="1.7" stroke-linejoin="round"/>
<path d="M419.85,271.24 V275.19 M417.25,271.24 H422.45 M417.25,275.19 H422.45" stroke="#000" stroke-width="1.2" fill="none"/>
<path d="M449.70,268.52 V272.47 M447.10,268.52 H452.30 M447.10,272.47 H452.30" stroke="#000" stroke-width="1.2" fill="none"/>
<path d="M501.00,272.47 V277.42 M498.40,272.47 H503.60 M498.40,277.42 H503.60" stroke="#000" stroke-width="1.2" fill="none"/>
<rect x="328.10" y="273.98" width="4.40" height="4.40" fill="#fff" stroke="#000" stroke-width="1.25"/>
<rect x="338.05" y="273.98" width="4.40" height="4.40" fill="#fff" stroke="#000" stroke-width="1.25"/>
<rect x="357.95" y="270.27" width="4.40" height="4.40" fill="#fff" stroke="#000" stroke-width="1.25"/>
<rect x="387.80" y="267.31" width="4.40" height="4.40" fill="#fff" stroke="#000" stroke-width="1.25"/>
<rect x="417.65" y="271.01" width="4.40" height="4.40" fill="#fff" stroke="#000" stroke-width="1.25"/>
<rect x="447.50" y="268.29" width="4.40" height="4.40" fill="#fff" stroke="#000" stroke-width="1.25"/>
<rect x="498.80" y="272.74" width="4.40" height="4.40" fill="#fff" stroke="#000" stroke-width="1.25"/>
<path d="M330.30,276.18 L340.25,276.18 L360.15,271.24 L390.00,248.49 L419.85,249.73 L449.70,231.68 L470.70,225.41 M477.20,223.47 L501.00,216.36" fill="none" stroke="#000" stroke-width="1.7" stroke-linejoin="round"/>
<path d="M390.00,242.31 V253.19 M387.40,242.31 H392.60 M387.40,253.19 H392.60" stroke="#000" stroke-width="1.2" fill="none"/>
<path d="M419.85,244.54 V254.18 M417.25,244.54 H422.45 M417.25,254.18 H422.45" stroke="#000" stroke-width="1.2" fill="none"/>
<path d="M449.70,224.52 V238.61 M447.10,224.52 H452.30 M447.10,238.61 H452.30" stroke="#000" stroke-width="1.2" fill="none"/>
<path d="M501.00,207.46 V223.03 M498.40,207.46 H503.60 M498.40,223.03 H503.60" stroke="#000" stroke-width="1.2" fill="none"/>
<polygon points="330.30,273.93 332.70,278.03 327.90,278.03" fill="#fff" stroke="#000" stroke-width="1.25" stroke-linejoin="miter"/>
<polygon points="340.25,273.93 342.65,278.03 337.85,278.03" fill="#fff" stroke="#000" stroke-width="1.25" stroke-linejoin="miter"/>
<polygon points="360.15,268.98 362.55,273.08 357.75,273.08" fill="#fff" stroke="#000" stroke-width="1.25" stroke-linejoin="miter"/>
<polygon points="390.00,246.24 392.40,250.34 387.60,250.34" fill="#fff" stroke="#000" stroke-width="1.25" stroke-linejoin="miter"/>
<polygon points="419.85,247.47 422.25,251.57 417.45,251.57" fill="#fff" stroke="#000" stroke-width="1.25" stroke-linejoin="miter"/>
<polygon points="449.70,229.43 452.10,233.53 447.30,233.53" fill="#fff" stroke="#000" stroke-width="1.25" stroke-linejoin="miter"/>
<polygon points="501.00,214.10 503.40,218.20 498.60,218.20" fill="#fff" stroke="#000" stroke-width="1.25" stroke-linejoin="miter"/>
<rect x="327.40" y="273.38" width="5.8" height="5.6" fill="#000"/>
<rect x="337.35" y="273.38" width="5.8" height="5.6" fill="#000"/>
<rect x="357.25" y="269.66" width="5.8" height="8.6" fill="#000"/>
<path d="M389.18,233.47 C389.23,232.50 387.23,232.30 386.87,233.67 C386.51,234.93 389.01,235.32 388.75,236.59 C388.61,237.27 387.99,237.56 387.55,237.56 M387.43,234.64 C386.99,234.64 386.34,234.93 386.24,235.61 C385.98,236.88 388.64,237.36 388.21,238.53 C387.90,239.51 385.83,239.80 385.63,238.73 M393.98,233.47 C394.03,232.50 392.03,232.30 391.67,233.67 C391.31,234.93 393.81,235.32 393.55,236.59 C393.41,237.27 392.79,237.56 392.35,237.56 M392.23,234.64 C391.79,234.64 391.14,234.93 391.04,235.61 C390.78,236.88 393.44,237.36 393.01,238.53 C392.70,239.51 390.63,239.80 390.43,238.73 " fill="none" stroke="#000" stroke-width="1.05" stroke-linecap="round"/>
<path d="M419.03,235.07 C419.08,234.10 417.08,233.90 416.72,235.27 C416.36,236.53 418.86,236.92 418.60,238.19 C418.46,238.87 417.84,239.16 417.40,239.16 M417.28,236.24 C416.84,236.24 416.19,236.53 416.09,237.21 C415.83,238.48 418.49,238.96 418.06,240.13 C417.75,241.11 415.68,241.40 415.48,240.33 M423.83,235.07 C423.88,234.10 421.88,233.90 421.52,235.27 C421.16,236.53 423.66,236.92 423.40,238.19 C423.26,238.87 422.64,239.16 422.20,239.16 M422.08,236.24 C421.64,236.24 420.99,236.53 420.89,237.21 C420.63,238.48 423.29,238.96 422.86,240.13 C422.55,241.11 420.48,241.40 420.28,240.33 " fill="none" stroke="#000" stroke-width="1.05" stroke-linecap="round"/>
<path d="M448.88,214.77 C448.93,213.80 446.93,213.60 446.57,214.97 C446.21,216.23 448.71,216.62 448.45,217.89 C448.31,218.57 447.69,218.86 447.25,218.86 M447.13,215.94 C446.69,215.94 446.04,216.23 445.94,216.91 C445.68,218.18 448.34,218.66 447.91,219.83 C447.60,220.81 445.53,221.10 445.33,220.03 M453.68,214.77 C453.73,213.80 451.73,213.60 451.37,214.97 C451.01,216.23 453.51,216.62 453.25,217.89 C453.11,218.57 452.49,218.86 452.05,218.86 M451.93,215.94 C451.49,215.94 450.84,216.23 450.74,216.91 C450.48,218.18 453.14,218.66 452.71,219.83 C452.40,220.81 450.33,221.10 450.13,220.03 " fill="none" stroke="#000" stroke-width="1.05" stroke-linecap="round"/>
<path d="M500.18,197.87 C500.23,196.90 498.23,196.70 497.87,198.07 C497.51,199.33 500.01,199.72 499.75,200.99 C499.61,201.67 498.99,201.96 498.55,201.96 M498.43,199.04 C497.99,199.04 497.34,199.33 497.24,200.01 C496.98,201.28 499.64,201.76 499.21,202.93 C498.90,203.91 496.83,204.20 496.63,203.13 M504.98,197.87 C505.03,196.90 503.03,196.70 502.67,198.07 C502.31,199.33 504.81,199.72 504.55,200.99 C504.41,201.67 503.79,201.96 503.35,201.96 M503.23,199.04 C502.79,199.04 502.14,199.33 502.04,200.01 C501.78,201.28 504.44,201.76 504.01,202.93 C503.70,203.91 501.63,204.20 501.43,203.13 " fill="none" stroke="#000" stroke-width="1.05" stroke-linecap="round"/>
</svg></body></html>
